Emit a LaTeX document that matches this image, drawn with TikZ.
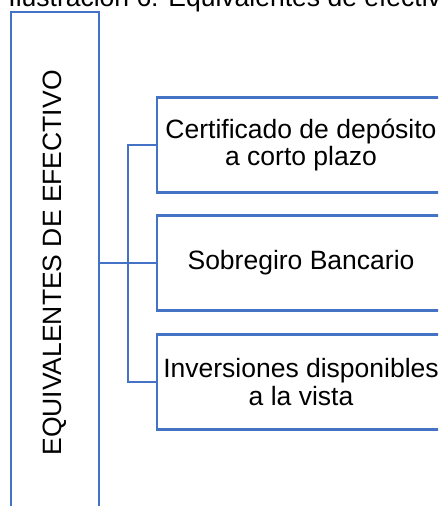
\documentclass[tikz,border=0pt]{standalone}
\usepackage{fontspec}
\setmainfont{Liberation Sans}
\tikzstyle{item} = [rectangle, minimum width=144pt, minimum height=47.5pt, inner sep=0pt, text centered, align=center, draw=boxblue, line width=1.3pt]
\tikzstyle{mainbox} = [rectangle, minimum width=44pt, minimum height=251pt, inner sep=0pt, draw=boxblue, line width=1.3pt]
\tikzstyle{line} = [draw=boxblue, line width=1.3pt]
\definecolor{boxblue}{HTML}{4472C4}

\begin{document}
\begin{tikzpicture}[node distance=59.5pt, font=\fontsize{13.25}{13.6}\selectfont]
\useasboundingbox (0,0) rectangle (219pt,-253pt);
\clip (0,0) rectangle (219pt,-253pt);

% Caption
\node (T) [anchor=base west, inner sep=0pt] at (4pt,-3.5pt) {Ilustración 6: Equivalentes de efectivo};

% Main block
\node (L) [mainbox] at (27.5pt,-131.5pt) {\rotatebox{90}{EQUIVALENTES DE EFECTIVO}};

% Items
\node (B2) [item, right of=L, xshift=63.5pt] {Sobregiro Bancario};
\node (B1) [item, above of=B2, yshift=-0.5pt] {Certificado de depósito\\a corto plazo};
\node (B3) [item, below of=B2] {Inversiones disponibles\\a la vista};

% Connecting lines
\path (L.east) -- (B2.west) coordinate[midway] (J);
\draw [line] (L.east) -- (B2.west);
\draw [line] (B1.west) -| (J) |- (B3.west);

\end{tikzpicture}
\end{document}
